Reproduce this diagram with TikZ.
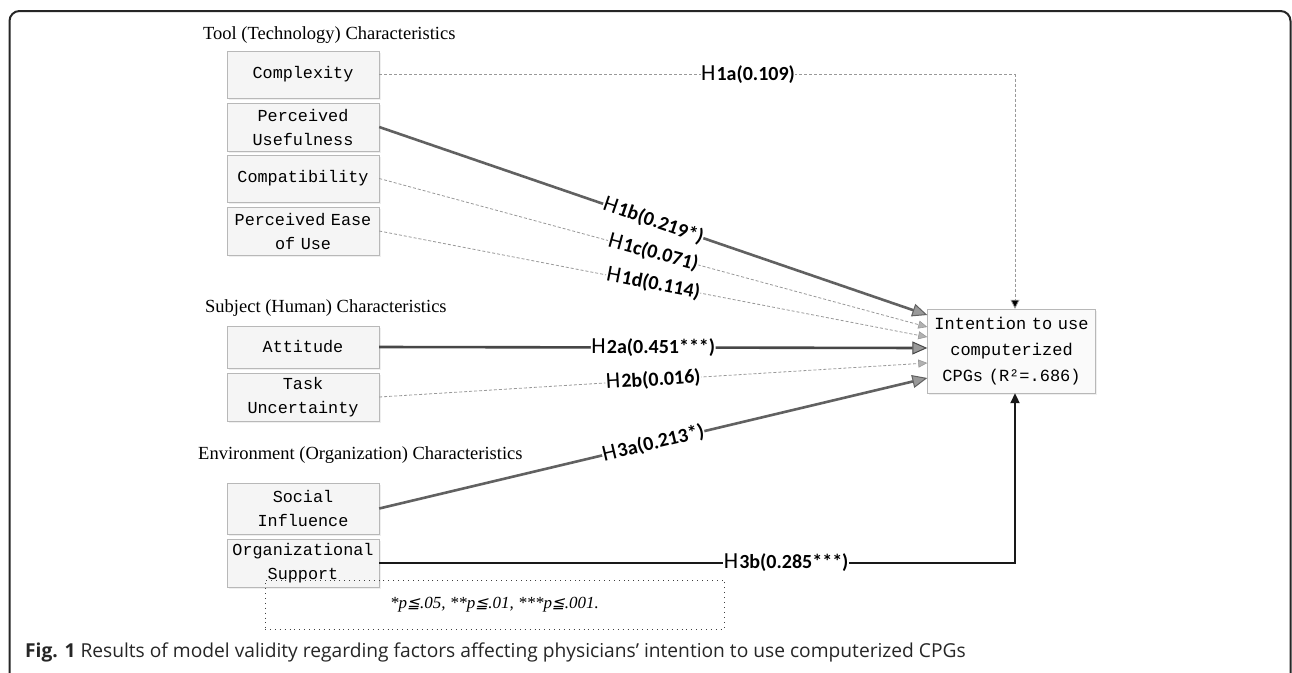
\documentclass[tikz,border=0pt]{standalone}
\usepackage{fontspec}
\setmainfont{Liberation Serif}
\newfontfamily\boxfont{Liberation Mono}
\newfontfamily\lblfont{Carlito}
\newfontfamily\capfont{Open Sans}
\newfontfamily\symfont[FakeSlant=0.2]{DejaVu Sans}
\usetikzlibrary{arrows.meta,shadows}
\newcommand\hlab[1]{{\lblfont{\fontsize{23}{23}\selectfont H}\kern1.2pt\fontsize{20}{20}\selectfont\textbf{#1}}}
\tikzset{
  factor/.style={draw=black!28, fill=black!4, minimum width=152pt, text width=150pt,
    align=center, inner sep=0pt, font=\boxfont\fontsize{16.8}{24}\selectfont,
    drop shadow={opacity=0.12, shadow xshift=1.5pt, shadow yshift=-1.5pt}},
  outcome/.style={draw=black!28, fill=black!2, minimum width=168pt, minimum height=84pt,
    text width=166pt, align=center, inner sep=0pt, font=\boxfont\fontsize{17}{26}\selectfont,
    drop shadow={opacity=0.12, shadow xshift=1.5pt, shadow yshift=-1.5pt}},
  grouptitle/.style={anchor=west, inner sep=0pt, font=\fontsize{18.5}{18.5}\selectfont},
  sig/.style={draw=black!62, line width=2.6pt,
    -{Triangle[length=15pt,width=13pt,fill=black!40,line width=1pt]}},
  sigdark/.style={sig, draw=black!72},
  ns/.style={draw=black!40, line width=0.8pt, dash pattern=on 3pt off 2pt,
    -{Triangle[length=9pt,width=8pt,fill=black!30,line width=0.6pt]}},
  lbl/.style={fill=white, inner sep=0.5pt, sloped, midway},
  frame/.style={draw=black!85, line width=2pt, rounded corners=10pt},
}
\begin{document}
\begin{tikzpicture}[x=1pt,y=-1pt]
\useasboundingbox (0,0) rectangle (1292,672);
\fill[white] (0,0) rectangle (1292,672);
\draw[frame] (9.5,690) -- (9.5,11) -- (1290.5,11) -- (1290.5,690);

% group titles
\node[grouptitle] (t1) at (203,35) {Tool (Technology) Characteristics};
\node[grouptitle] (t2) at (205,308) {Subject (Human) Characteristics};
\node[grouptitle] (t3) at (198,455) {Environment (Organization) Characteristics};

% factor boxes
\node[factor, minimum height=47pt] (comp) at (303,74.5) {Complexity};
\node[factor, minimum height=48pt] (pu) at (303,127) {Perceived\\Usefulness};
\node[factor, minimum height=47pt] (compat) at (303,178.5) {Compatibility};
\node[factor, minimum height=48pt] (peou) at (303,231) {Perceived Ease\\of Use};
\node[factor, minimum height=42pt] (att) at (303,347) {Attitude};
\node[factor, minimum height=48pt] (task) at (303,397) {Task\\Uncertainty};
\node[factor, minimum height=51pt] (soc) at (303,508.5) {Social\\Influence};
\node[factor, minimum height=48pt] (org) at (303,563) {Organizational\\Support};

% outcome
\node[outcome] (tgt) at (1011.5,351) {Intention to use\\computerized\\CPGs (R²=.686)};

% connectors
\draw[ns, -{Triangle[length=9pt,width=9pt,fill=black]}] (comp.east) -| node[lbl, pos=0.29, sloped=false]{\hlab{1a(0.109)}} ([xshift=3.5pt]tgt.north);
\draw[ns] (compat.east) -- node[lbl]{\hlab{1c(0.071)}} ([yshift=24pt]tgt.west);
\draw[ns] (peou.east) -- node[lbl]{\hlab{1d(0.114)}} ([yshift=14pt]tgt.west);
\draw[ns] (task.east) -- node[lbl]{\hlab{2b(0.016)}} ([yshift=-12pt]tgt.west);
\draw[sig] (pu.east) -- node[lbl]{\hlab{1b(0.219*)}} ([yshift=36pt]tgt.west);
\draw[sigdark] (att.east) -- node[lbl]{\hlab{2a(0.451***)}} ([yshift=3pt]tgt.west);
\draw[sig] (soc.east) -- node[lbl]{\hlab{3a(0.213*)}} ([yshift=-27pt]tgt.west);
\draw[draw=black!90, line width=2pt, -{Triangle[length=10pt,width=9pt]}] (org.east) -| node[lbl, pos=0.32, sloped=false]{\hlab{3b(0.285***)}} ([xshift=3.5pt]tgt.south);

% significance note
\node[draw=black!75, dash pattern=on 0.9pt off 4pt, minimum width=459pt, minimum height=49pt, inner sep=0pt,
  font=\itshape\fontsize{17}{17}\selectfont] (note) at (494.5,604.5)
  {*p{\symfont\fontsize{15.5}{15.5}\selectfont ≦}.05, **p{\symfont\fontsize{15.5}{15.5}\selectfont ≦}.01, ***p{\symfont\fontsize{15.5}{15.5}\selectfont ≦}.001.};

% caption
\node[anchor=west, inner sep=0pt, font=\capfont\fontsize{19.2}{19.2}\selectfont, text=black!85] (cap) at (25,652)
  {\textbf{Fig. 1} Results of model validity regarding factors affecting physicians’ intention to use computerized CPGs};
\end{tikzpicture}
\end{document}
